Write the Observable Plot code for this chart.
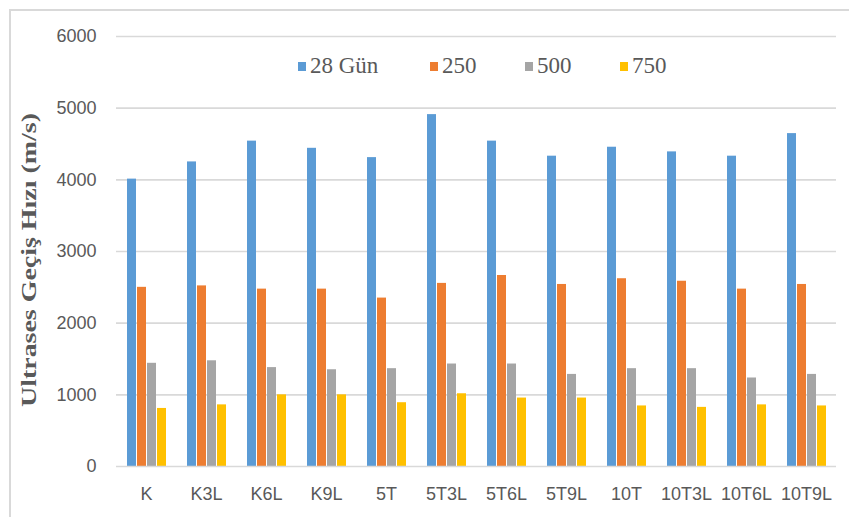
<!DOCTYPE html>
<html>
<head>
<meta charset="utf-8">
<script src="https://cdn.jsdelivr.net/npm/d3@7"></script>
<script src="https://cdn.jsdelivr.net/npm/@observablehq/plot@0.6"></script>
<style>
  html, body { margin: 0; padding: 0; background: #fff; overflow: hidden; }
  #wrap { position: relative; width: 849px; height: 517px; overflow: hidden; background: #fff; }
  #frame { position: absolute; left: 9px; top: 9px; width: 860px; height: 530px; border: 2px solid #d9d9d9; box-sizing: border-box; }
  #chart { position: absolute; left: 0; top: 0; }
  #legend { position: absolute; left: 0; top: 0; width: 849px; height: 100px; pointer-events: none;
            font-family: "Liberation Serif", "Times New Roman", serif; font-size: 23px; color: #595959; }
  .item { position: absolute; top: 52px; height: 28px; display: flex; align-items: center; white-space: nowrap; }
  .sw { width: 8px; height: 9px; margin-right: 4px; }
  #ytitle { position: absolute; left: 0; top: 0; }
</style>
</head>
<body>
<div id="wrap">
  <div id="frame"></div>
  <div id="chart"></div>
  <div id="legend"></div>
  <svg id="ytitle" width="60" height="517"></svg>
</div>
<script>
const categories = ["K","K3L","K6L","K9L","5T","5T3L","5T6L","5T9L","10T","10T3L","10T6L","10T9L"];
const series = ["28 Gün","250","500","750"];
const gun28 = [4010,4250,4540,4440,4310,4910,4540,4330,4455,4390,4330,4645];
const t250  = [2500,2520,2475,2475,2350,2555,2665,2540,2620,2585,2475,2540];
const t500  = [1440,1475,1380,1350,1365,1430,1430,1285,1365,1365,1235,1285];
const t750  = [810,860,1000,1000,890,1015,955,955,845,825,860,845];
const yTicks = [0,1000,2000,3000,4000,5000,6000];
const colors = ["#5B9BD5","#ED7D31","#A5A5A5","#FFC000"];
const yTitle = "Ultrases Geçiş Hızı (m/s)";

const seriesValues = [gun28, t250, t500, t750];
const table = [];
categories.forEach((c, i) => {
  series.forEach((s, j) => table.push({cat: c, series: s, value: seriesValues[j][i]}));
});

const chart = Plot.plot({
  width: 849,
  height: 517,
  marginLeft: 115,
  marginRight: 12,
  marginTop: 36,
  marginBottom: 51,
  style: {fontFamily: "'Liberation Sans', Arial, sans-serif", fontSize: "18px", color: "#595959", background: "transparent"},
  facet: {data: table, x: "cat", marginRight: 0, marginLeft: 0},
  fx: {domain: categories, padding: 0, axis: "bottom", tickSize: 0, tickPadding: 21, label: null},
  x: {domain: series, paddingInner: 0.1, paddingOuter: 0.985, axis: null},
  y: {domain: [0, 6000], ticks: yTicks, tickSize: 0, tickPadding: 20, tickFormat: "d", label: null},
  color: {domain: series, range: colors},
  marks: [
    Plot.ruleY(yTicks.filter(d => d > 0), {stroke: "#d9d9d9", strokeWidth: 1.6}),
    Plot.barY(table, {x: "series", y: "value", fill: "series"}),
    Plot.ruleY([0], {stroke: "#d9d9d9", strokeWidth: 1.6})
  ]
});
document.getElementById("chart").appendChild(chart);

// legend
const legendX = [298, 430, 525, 620];
const legend = document.getElementById("legend");
series.forEach((s, i) => {
  const it = document.createElement("div");
  it.className = "item";
  it.style.left = legendX[i] + "px";
  const sw = document.createElement("span");
  sw.className = "sw";
  sw.style.background = colors[i];
  const tx = document.createElement("span");
  tx.textContent = s;
  it.appendChild(sw); it.appendChild(tx);
  legend.appendChild(it);
});

// y title
d3.select("#ytitle").append("text")
  .attr("transform", "translate(36,260) rotate(-90)")
  .attr("text-anchor", "middle")
  .attr("font-family", "'Liberation Serif', 'Times New Roman', serif")
  .attr("font-weight", "bold")
  .attr("font-size", 22)
  .attr("fill", "#595959")
  .attr("textLength", 294)
  .attr("lengthAdjust", "spacingAndGlyphs")
  .text(yTitle);
</script>
</body>
</html>
